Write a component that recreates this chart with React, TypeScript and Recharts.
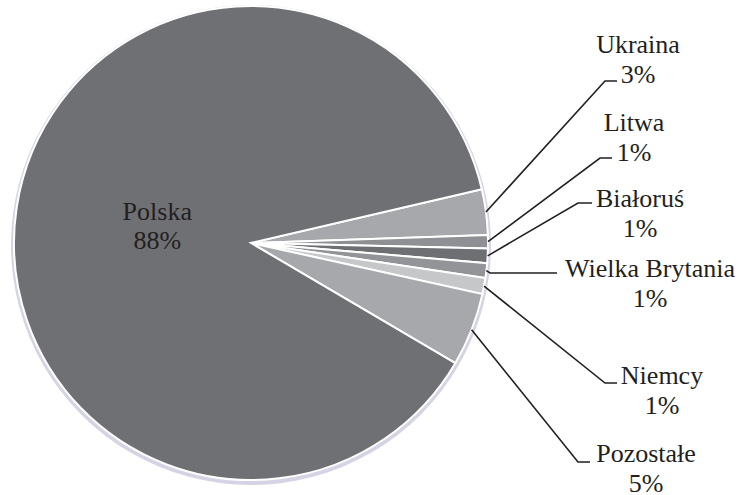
import React from "react";
import { PieChart, Pie, Cell } from "recharts";

const categories = ["Ukraina", "Litwa", "Białoruś", "Wielka Brytania", "Niemcy", "Pozostałe", "Polska"];
const shares = [3.1, 0.9, 1.0, 1.0, 1.1, 5.0, 87.9];
const sliceColors = ["#a7a8ab", "#8f9093", "#6e6f72", "#939497", "#c6c7c9", "#a7a8ab", "#6f7074"];

// label layout (elbow point, end of horizontal stub, text centre and first-line y)
const labelLayout: Record<string, { ex: number; ey: number; hx: number; tx: number; ty: number } | null> = {
  "Ukraina": { ex: 605, ey: 81, hx: 617, tx: 638, ty: 44 },
  "Litwa": { ex: 600, ey: 158, hx: 612, tx: 634, ty: 122 },
  "Białoruś": { ex: 578, ey: 203, hx: 592, tx: 640, ty: 198 },
  "Wielka Brytania": { ex: 490, ey: 273, hx: 557, tx: 650, ty: 268 },
  "Niemcy": { ex: 605, ey: 383, hx: 617, tx: 662, ty: 375 },
  "Pozostałe": { ex: 578, ey: 462, hx: 590, tx: 646, ty: 453 },
  "Polska": null,
};

const data = categories.map((name, i) => ({ name, value: shares[i] }));
const backdrop = [{ name: "shadow", value: 1 }];

const textStyle: React.CSSProperties = {
  fontFamily: '"Liberation Serif", "Times New Roman", serif',
  fontSize: 26,
};
const RAD = Math.PI / 180;

const renderLabel = (props: any) => {
  const { cx, cy, midAngle, outerRadius, name, percent } = props;
  const pct = `${Math.round(percent * 100)}%`;
  const lay = labelLayout[name];
  if (!lay) {
    const r = outerRadius * 0.4;
    const x = cx + r * Math.cos(-midAngle * RAD);
    const y = cy + r * Math.sin(-midAngle * RAD);
    return (
      <g>
        <text x={x} y={y - 17} textAnchor="middle" dominantBaseline="central" style={textStyle} fill="#231f20">{name}</text>
        <text x={x} y={y + 12} textAnchor="middle" dominantBaseline="central" style={textStyle} fill="#231f20">{pct}</text>
      </g>
    );
  }
  const sx = cx + outerRadius * Math.cos(-midAngle * RAD);
  const sy = cy + outerRadius * Math.sin(-midAngle * RAD);
  return (
    <g>
      <polyline points={`${sx},${sy} ${lay.ex},${lay.ey} ${lay.hx},${lay.ey}`} fill="none" stroke="#231f20" strokeWidth={1.6} />
      <text x={lay.tx} y={lay.ty} textAnchor="middle" dominantBaseline="central" style={textStyle} fill="#231f20">{name}</text>
      <text x={lay.tx} y={lay.ty + 30} textAnchor="middle" dominantBaseline="central" style={textStyle} fill="#231f20">{pct}</text>
    </g>
  );
};

export default function App() {
  return (
    <div style={{ position: "absolute", left: 0, top: 0, background: "#fff" }}>
      <PieChart width={740} height={495} margin={{ top: 0, right: 0, bottom: 0, left: 0 }}>
        <Pie
          data={backdrop}
          dataKey="value"
          cx={251}
          cy={245}
          outerRadius={240}
          startAngle={90}
          endAngle={-270}
          fill="#d6d3e4"
          stroke="none"
          isAnimationActive={false}
          label={false}
          labelLine={false}
        />
        <Pie
          data={data}
          dataKey="value"
          nameKey="name"
          cx={251}
          cy={243}
          outerRadius={237}
          startAngle={13.1}
          endAngle={13.1 - 360}
          stroke="#ffffff"
          strokeWidth={2}
          isAnimationActive={false}
          label={renderLabel}
          labelLine={false}
        >
          {data.map((d, i) => (
            <Cell key={d.name} fill={sliceColors[i]} />
          ))}
        </Pie>
      </PieChart>
    </div>
  );
}
